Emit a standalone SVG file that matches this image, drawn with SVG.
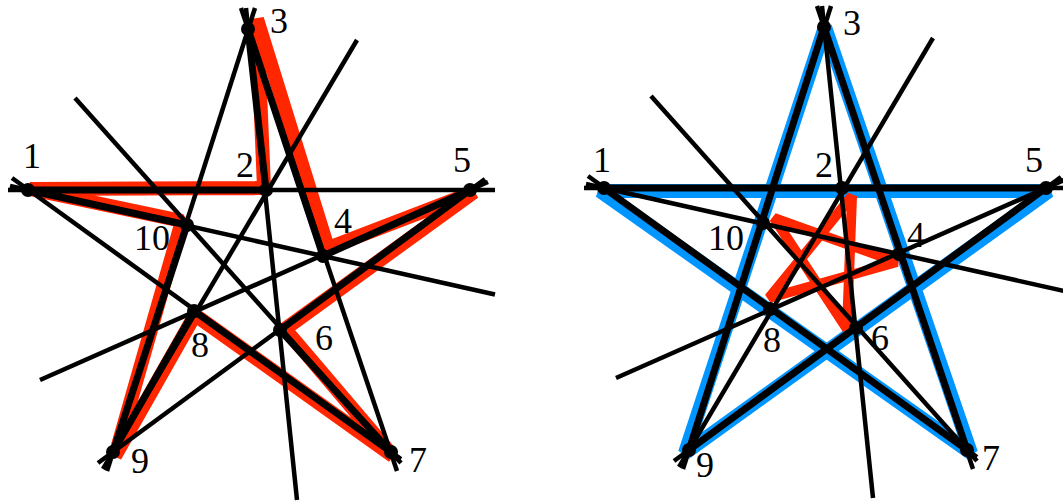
<svg xmlns="http://www.w3.org/2000/svg" width="1063" height="503" viewBox="0 0 1063 503">
<style>
.bg{fill:#fff}
.thin{stroke:#000;stroke-width:4.5;fill:none;stroke-linecap:butt}
.thick{stroke:#000;stroke-width:7;fill:none;stroke-linejoin:round}
.red{stroke:#ff2600;stroke-width:14;fill:none;stroke-linejoin:bevel}
.redin{stroke:#ff2600;stroke-width:10;fill:none;stroke-linejoin:bevel}
.blue{stroke:#0095ff;stroke-width:14;fill:none;stroke-linejoin:bevel}
.dot{fill:#000}
.lbl{font-family:"Liberation Serif","Times New Roman",serif;font-size:36px;fill:#000}
</style>
<defs>
<g id="lines">
<line class="thin" x1="8" y1="190" x2="495" y2="190"/>
<line class="thin" x1="10" y1="186" x2="495" y2="294.5"/>
<line class="thin" x1="12" y1="178" x2="401" y2="459"/>
<line class="thin" x1="255" y1="8" x2="107" y2="471"/>
<line class="thin" x1="241" y1="8" x2="397" y2="471"/>
<line class="thin" x1="246" y1="8" x2="297" y2="500"/>
<line class="thin" x1="357" y1="40" x2="103" y2="469"/>
<line class="thin" x1="75" y1="98" x2="401" y2="463"/>
<line class="thin" x1="40" y1="380" x2="488" y2="182"/>
<line class="thin" x1="98" y1="463" x2="485" y2="179"/>
</g>
<g id="dots">
<circle class="dot" cx="28" cy="190" r="7"/>
<circle class="dot" cx="266" cy="190" r="7"/>
<circle class="dot" cx="248" cy="29" r="7"/>
<circle class="dot" cx="323" cy="256" r="7"/>
<circle class="dot" cx="470" cy="190" r="7"/>
<circle class="dot" cx="280" cy="330" r="7"/>
<circle class="dot" cx="391" cy="452" r="7"/>
<circle class="dot" cx="194" cy="311" r="7"/>
<circle class="dot" cx="113" cy="452" r="7"/>
<circle class="dot" cx="187" cy="225" r="7"/>
</g>
</defs>
<rect class="bg" x="0" y="0" width="1063" height="503"/>

<g id="left">
<polygon id="left-red" class="red" points="30,189 264,188 257,19 328,248 474,192 285,329 393,456 195,315 115,456 182,221"/>
<g id="left-connectors">
<use href="#lines"/>
<polygon class="thick" points="28,190 266,190 248,29 323,256 470,190 280,330 391,452 194,311 113,452 187,225"/>
</g>
<use href="#dots"/>
<g id="left-labels">
<text class="lbl" x="23" y="168">1</text>
<text class="lbl" x="236" y="177">2</text>
<text class="lbl" x="270" y="33">3</text>
<text class="lbl" x="334" y="233">4</text>
<text class="lbl" x="453" y="172">5</text>
<text class="lbl" x="315" y="350">6</text>
<text class="lbl" x="409" y="472">7</text>
<text class="lbl" x="191" y="357">8</text>
<text class="lbl" x="131" y="473">9</text>
<text class="lbl" x="134" y="250">10</text>
</g>
</g>

<g id="right">
<polygon id="right-blue" class="blue" points="600,191 1049,191 685,453 825,27 971,453"/>
<polygon id="right-red" class="redin" points="852,196 769,298 897,262 774,218 847,329"/>
<g id="right-connectors" transform="translate(576,-2)">
<use href="#lines"/>
<polygon class="thick" points="28,190 470,190 113,452 248,29 391,452"/>
</g>
<use href="#dots" transform="translate(576,-2)"/>
<g id="right-labels">
<text class="lbl" x="593" y="172">1</text>
<text class="lbl" x="815" y="177">2</text>
<text class="lbl" x="843" y="35">3</text>
<text class="lbl" x="907" y="247">4</text>
<text class="lbl" x="1025" y="172">5</text>
<text class="lbl" x="871" y="350">6</text>
<text class="lbl" x="982" y="470">7</text>
<text class="lbl" x="763" y="352">8</text>
<text class="lbl" x="696" y="477">9</text>
<text class="lbl" x="708" y="250">10</text>
</g>
</g>
</svg>
